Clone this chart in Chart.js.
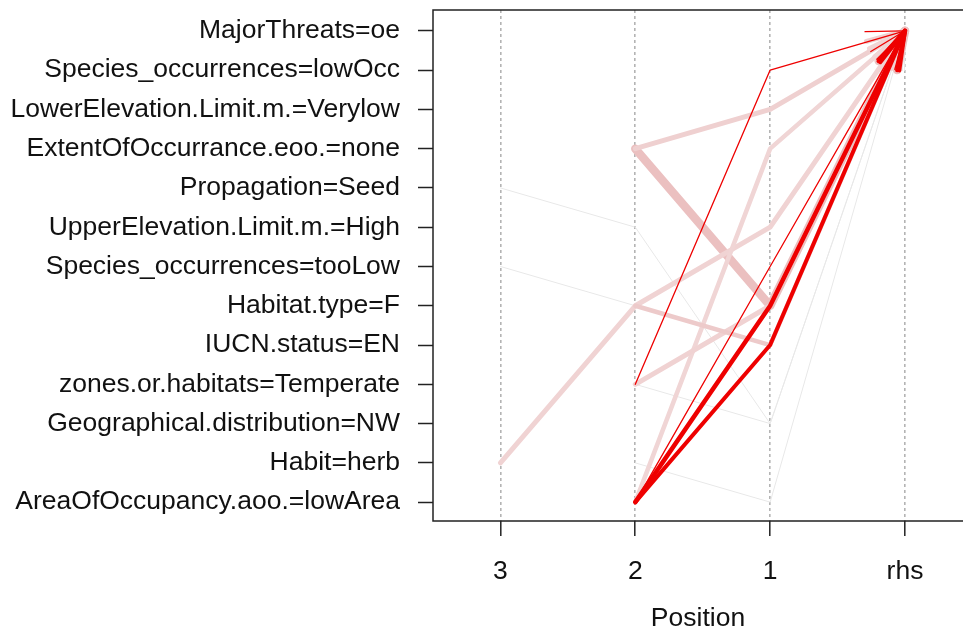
<!DOCTYPE html>
<html><head><meta charset="utf-8">
<script src="https://cdn.jsdelivr.net/npm/chart.js@4"></script>
<style>html,body{margin:0;padding:0;background:#fff;overflow:hidden}#wrap{width:963px;height:631px}</style>
</head><body><div id="wrap"><canvas id="c" width="963" height="631"></canvas></div>
<script>
// ---- data ----
const itemLabels = [
  'AreaOfOccupancy.aoo.=lowArea',
  'Habit=herb',
  'Geographical.distribution=NW',
  'zones.or.habitats=Temperate',
  'IUCN.status=EN',
  'Habitat.type=F',
  'Species_occurrences=tooLow',
  'UpperElevation.Limit.m.=High',
  'Propagation=Seed',
  'ExtentOfOccurrance.eoo.=none',
  'LowerElevation.Limit.m.=Verylow',
  'Species_occurrences=lowOcc',
  'MajorThreats=oe'
];
const positionLabels = ['3', '2', '1', 'rhs'];
// each rule: item at position 3, 2, 1 (null = empty) and rhs
const rulePos3 = [null, null, null, null, null, null, null, 'Habit=herb', null, null, 'Species_occurrences=tooLow', 'Propagation=Seed', null, null];
const rulePos2 = ['AreaOfOccupancy.aoo.=lowArea', 'AreaOfOccupancy.aoo.=lowArea', 'zones.or.habitats=Temperate', 'AreaOfOccupancy.aoo.=lowArea', 'Habitat.type=F', 'zones.or.habitats=Temperate', 'AreaOfOccupancy.aoo.=lowArea', 'Habitat.type=F', 'ExtentOfOccurrance.eoo.=none', 'ExtentOfOccurrance.eoo.=none', 'Habitat.type=F', 'UpperElevation.Limit.m.=High', 'zones.or.habitats=Temperate', 'Habit=herb'];
const rulePos1 = ['Habitat.type=F', 'IUCN.status=EN', 'Species_occurrences=lowOcc', 'Species_occurrences=tooLow', 'IUCN.status=EN', 'Habitat.type=F', 'ExtentOfOccurrance.eoo.=none', 'UpperElevation.Limit.m.=High', 'LowerElevation.Limit.m.=Verylow', 'Habitat.type=F', 'IUCN.status=EN', 'Geographical.distribution=NW', 'Geographical.distribution=NW', 'AreaOfOccupancy.aoo.=lowArea'];
const ruleRhs = Array(14).fill('MajorThreats=oe');

// ---- styles (colour ~ lift, width ~ support) ----
const lineColors = ['#EE0000', '#EE0000', '#EE0000', '#EE0000',
  '#EDCACA', '#F0D2D2', '#F0D5D5', '#F0D3D3', '#EFD0D0', '#EBC0C0',
  '#E8E8E8', '#E8E8E8', '#E8E8E8', '#E8E8E8'];
const lineWidths = [4.5, 4, 1.3, 1.3, 4.5, 5, 4.5, 5, 5, 8.5, 1, 1, 1, 1];

const datasets = rulePos3.map((_, i) => {
  const cols = [rulePos3[i], rulePos2[i], rulePos1[i], ruleRhs[i]];
  const pts = [];
  cols.forEach((it, p) => { if (it !== null) pts.push({ x: p + 1, y: itemLabels.indexOf(it) }); });
  return {
    data: pts, borderColor: lineColors[i], borderWidth: lineWidths[i],
    pointRadius: 0, tension: 0, fill: false,
    borderCapStyle: 'round', borderJoinStyle: 'round'
  };
});

const FONT = { family: "'Liberation Sans', Arial, sans-serif", size: 26.5, lineHeight: 1.0 };

const boxAndArrows = {
  id: 'boxAndArrows',
  afterDatasetDraw(chart, args) {
    const meta = args.meta, ds = chart.data.datasets[args.index];
    const pts = meta.data; const n = pts.length;
    if (n < 2) return;
    const a = pts[n - 1], b = pts[n - 2];
    const ang = Math.atan2(b.y - a.y, b.x - a.x);
    const L = 40, h = 15 * Math.PI / 180;
    const ctx = chart.ctx;
    ctx.save();
    ctx.strokeStyle = ds.borderColor; ctx.lineWidth = ds.borderWidth;
    ctx.lineCap = 'round'; ctx.lineJoin = 'round';
    ctx.beginPath();
    ctx.moveTo(a.x + L * Math.cos(ang + h), a.y + L * Math.sin(ang + h));
    ctx.lineTo(a.x, a.y);
    ctx.lineTo(a.x + L * Math.cos(ang - h), a.y + L * Math.sin(ang - h));
    ctx.stroke();
    ctx.restore();
  },
  afterDraw(chart) {
    const { ctx, chartArea: c } = chart;
    ctx.save();
    ctx.strokeStyle = '#222'; ctx.lineWidth = 1.5;
    ctx.beginPath();
    ctx.moveTo(c.right + 2, c.top); ctx.lineTo(c.left, c.top);
    ctx.lineTo(c.left, c.bottom); ctx.lineTo(c.right + 2, c.bottom);
    ctx.stroke();
    ctx.restore();
  }
};

new Chart(document.getElementById('c'), {
  type: 'line',
  data: { datasets },
  options: {
    responsive: false, animation: false, devicePixelRatio: 1,
    layout: { padding: { top: 10, right: 0, left: 0, bottom: 0 } },
    plugins: { legend: { display: false }, tooltip: { enabled: false } },
    scales: {
      x: {
        type: 'linear', min: 0.5, max: 4.43,
        afterBuildTicks: s => { s.ticks = positionLabels.map((_, i) => ({ value: i + 1 })); },
        afterFit: s => { s.height = 110; s.paddingLeft = 0; s.paddingRight = 0; },
        ticks: { callback: v => positionLabels[v - 1], font: FONT, color: '#111', padding: 22, autoSkip: false, maxRotation: 0 },
        grid: { color: '#b4b4b4', lineWidth: 1.6, tickLength: 15, tickColor: '#222', tickWidth: 1.5 },
        border: { display: false, dash: [3, 3] },
        title: { display: true, text: 'Position', font: FONT, color: '#111', padding: { top: 0, bottom: -1 } }
      },
      y: {
        type: 'linear', min: -0.48, max: 12.53,
        afterBuildTicks: s => { s.ticks = itemLabels.map((_, i) => ({ value: i })); },
        afterFit: s => { s.width = 433; s.paddingTop = 0; s.paddingBottom = 0; },
        ticks: { callback: v => itemLabels[v], font: FONT, color: '#111', padding: 18, autoSkip: false },
        grid: { drawOnChartArea: false, drawTicks: true, tickLength: 15, tickColor: '#222', tickWidth: 1.5 },
        border: { display: false }
      }
    }
  },
  plugins: [boxAndArrows]
});
</script></body></html>
